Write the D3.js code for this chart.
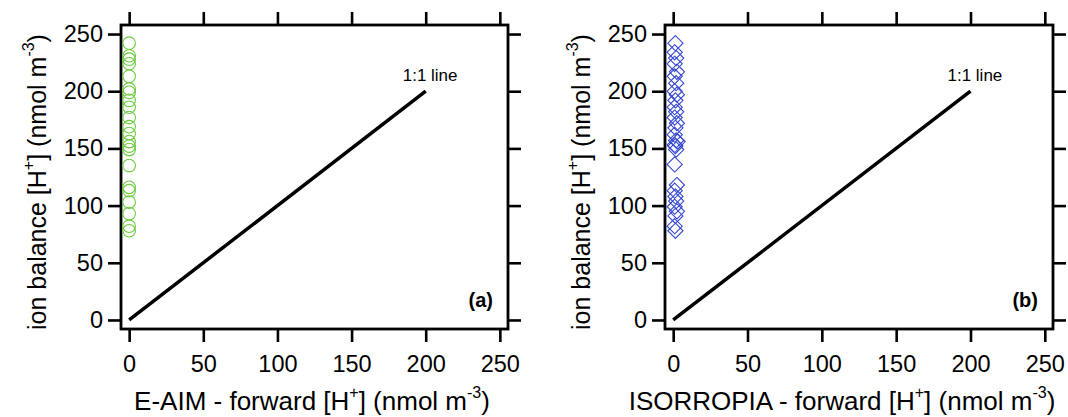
<!DOCTYPE html>
<html>
<head>
<meta charset="utf-8">
<style>
  body { margin: 0; background: #fff; }
  svg { display: block; font-family: Arial, "Liberation Sans", sans-serif; }
  .tick line { stroke: #000; stroke-width: 2.6; }
</style>
</head>
<body>
<svg width="1068" height="417"></svg>
<script src="https://d3js.org/d3.v7.min.js"></script>
<script>
// values (nmol m-3)
const ticks = [0, 50, 100, 150, 200, 250];
const oneToOne = [0, 200];

// panel (a): E-AIM forward vs ion balance
const eaimX = [0, 0, 0, 0, 0, 0, 0, 0, 0, 0, 0, 0, 0, 0, 0, 0, 0, 0, 0, 0, 0, 0];
const eaimY = [242, 231, 228, 224, 213, 202, 199, 192, 186, 177, 169, 163,
               156, 152, 149, 135, 116, 113, 103, 93, 82, 78];

// panel (b): ISORROPIA forward vs ion balance
const isoX = [0.5, 0, 1, 0, 1.5, 0, 1, 0, 1.5, 0.5, 0, 1, 0, 1.5, 0.5, 0, 1,
              0, 2, 0.5, 1, 0, 1.5, 0, 0.5, 1, 0, 1.5, 0.5, 0, 0.5];
const isoY = [242, 234, 229, 224, 217, 213, 207, 200, 197, 192, 186, 182, 177,
              172, 168, 162, 157, 153, 156, 152, 149, 136, 118, 113, 108, 104,
              99, 95, 91, 82, 78];

const panels = [
  { left: 121, right: 508, xs: eaimX, ys: eaimY, shape: "circle", color: "#6ccc3c",
    tag: "(a)", xTitle: "E-AIM - forward [H", titleX: 312 },
  { left: 665, right: 1053, xs: isoX, ys: isoY, shape: "diamond", color: "#3548d0",
    tag: "(b)", xTitle: "ISORROPIA - forward [H", titleX: 842 }
];

const plotTop = 25, plotBottom = 329;
const svg = d3.select("svg");

panels.forEach(p => {
  const x = d3.scaleLinear().domain([-5.5, 255.5]).range([p.left, p.right]);
  const y = d3.scaleLinear().domain([-7.9, 257.9]).range([plotBottom, plotTop]);
  const g = svg.append("g");

  // axes on all four sides, labels only left and bottom
  const axes = [
    [d3.axisBottom(x), `translate(0,${plotBottom})`, true, 13],
    [d3.axisLeft(y), `translate(${p.left},0)`, true, 5],
    [d3.axisTop(x), `translate(0,${plotTop})`, false, 5],
    [d3.axisRight(y), `translate(${p.right},0)`, false, 5]
  ];
  axes.forEach(([ax, tr, lab, pad]) => {
    const a = g.append("g").attr("transform", tr)
      .call(ax.tickValues(ticks).tickSize(13).tickSizeOuter(0).tickPadding(pad)
        .tickFormat(lab ? d3.format("d") : ""));
    a.select(".domain").remove();
    a.attr("font-family", null).attr("font-size", 23.5);
    a.selectAll("text").attr("fill", "#000");
  });

  // frame
  g.append("rect")
    .attr("x", p.left).attr("y", plotTop)
    .attr("width", p.right - p.left).attr("height", plotBottom - plotTop)
    .attr("fill", "none").attr("stroke", "#000").attr("stroke-width", 2.8);

  // 1:1 line
  g.append("line")
    .attr("x1", x(oneToOne[0])).attr("y1", y(oneToOne[0]))
    .attr("x2", x(oneToOne[1])).attr("y2", y(oneToOne[1]))
    .attr("stroke", "#000").attr("stroke-width", 3.5);
  g.append("text")
    .attr("x", x(oneToOne[1]) - 23).attr("y", y(oneToOne[1]) - 10)
    .attr("font-size", 17).text("1:1 line");

  // markers
  const pts = p.xs.map((d, i) => [d, p.ys[i]]);
  if (p.shape === "circle") {
    g.selectAll(".pt").data(pts).join("circle")
      .attr("cx", d => x(d[0])).attr("cy", d => y(d[1])).attr("r", 6.3)
      .attr("fill", "none").attr("stroke", p.color).attr("stroke-width", 1.1);
  } else {
    const s = 7.6;
    g.selectAll(".pt").data(pts).join("path")
      .attr("d", d => {
        const cx = x(d[0]) + 1.5, cy = y(d[1]);
        return `M${cx},${cy - s}L${cx + s},${cy}L${cx},${cy + s}L${cx - s},${cy}Z`;
      })
      .attr("fill", "none").attr("stroke", p.color).attr("stroke-width", 1.1);
  }

  // panel tag
  g.append("text").attr("x", p.right - 15).attr("y", 307)
    .attr("text-anchor", "end").attr("font-size", 20).attr("font-weight", "bold")
    .text(p.tag);

  // x title
  const xt = g.append("text").attr("x", p.titleX).attr("y", 410)
    .attr("text-anchor", "middle").attr("font-size", 26);
  xt.append("tspan").text(p.xTitle);
  xt.append("tspan").attr("font-size", 16).attr("dy", -12).text("+");
  xt.append("tspan").attr("dy", 12).text("] (nmol m");
  xt.append("tspan").attr("font-size", 16).attr("dy", -12).text("-3");
  xt.append("tspan").attr("dy", 12).text(")");

  // y title
  const yt = g.append("text")
    .attr("transform", `translate(${p.left - 75},182) rotate(-90)`)
    .attr("text-anchor", "middle").attr("font-size", 25);
  yt.append("tspan").text("ion balance [H");
  yt.append("tspan").attr("font-size", 16).attr("dy", -12).text("+");
  yt.append("tspan").attr("dy", 12).text("] (nmol m");
  yt.append("tspan").attr("font-size", 16).attr("dy", -12).text("-3");
  yt.append("tspan").attr("dy", 12).text(")");
});
</script>
</body>
</html>
